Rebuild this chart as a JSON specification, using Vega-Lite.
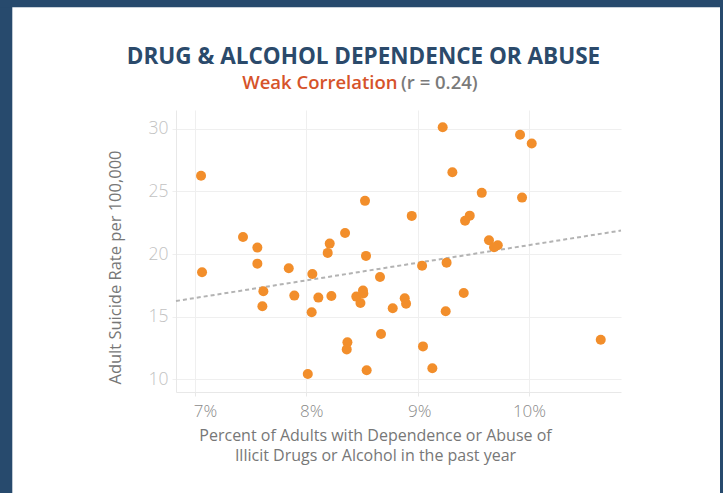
{
  "$schema": "https://vega.github.io/schema/vega-lite/v6.json",
  "width": 445,
  "height": 282,
  "autosize": {"type": "none"},
  "padding": {"left": 176, "top": 110, "right": 102, "bottom": 101},
  "background": "white",
  "config": {"font": "Open Sans", "view": {"stroke": null}},
  "title": {
    "text": "DRUG & ALCOHOL DEPENDENCE OR ABUSE",
    "color": "#2b4a6b",
    "fontSize": 22.5,
    "fontWeight": "bold",
    "font": "Open Sans",
    "anchor": "middle",
    "frame": "bounds",
    "baseline": "alphabetic",
    "offset": -86,
    "dx": 2
  },
  "datasets": {
    "states": [
      {"pct": 7.054, "rate": 26.25},
      {"pct": 7.063, "rate": 18.55},
      {"pct": 7.431, "rate": 21.37},
      {"pct": 7.56, "rate": 20.52},
      {"pct": 7.56, "rate": 19.24},
      {"pct": 7.614, "rate": 17.04},
      {"pct": 7.605, "rate": 15.84},
      {"pct": 7.842, "rate": 18.87},
      {"pct": 7.892, "rate": 16.69},
      {"pct": 8.054, "rate": 18.42},
      {"pct": 8.108, "rate": 16.53},
      {"pct": 8.048, "rate": 15.36},
      {"pct": 8.013, "rate": 10.43},
      {"pct": 8.192, "rate": 20.1},
      {"pct": 8.21, "rate": 20.84},
      {"pct": 8.225, "rate": 16.66},
      {"pct": 8.348, "rate": 21.69},
      {"pct": 8.369, "rate": 12.96},
      {"pct": 8.363, "rate": 12.4},
      {"pct": 8.449, "rate": 16.61},
      {"pct": 8.509, "rate": 17.1},
      {"pct": 8.512, "rate": 16.86},
      {"pct": 8.486, "rate": 16.1},
      {"pct": 8.527, "rate": 24.25},
      {"pct": 8.536, "rate": 19.86},
      {"pct": 8.542, "rate": 10.73},
      {"pct": 8.662, "rate": 18.18},
      {"pct": 8.671, "rate": 13.63},
      {"pct": 8.776, "rate": 15.68},
      {"pct": 8.884, "rate": 16.48},
      {"pct": 8.896, "rate": 16.05},
      {"pct": 8.947, "rate": 23.05},
      {"pct": 9.04, "rate": 19.08},
      {"pct": 9.048, "rate": 12.64},
      {"pct": 9.132, "rate": 10.89},
      {"pct": 9.26, "rate": 19.32},
      {"pct": 9.252, "rate": 15.44},
      {"pct": 9.225, "rate": 30.13},
      {"pct": 9.92, "rate": 29.52},
      {"pct": 10.025, "rate": 28.83},
      {"pct": 9.312, "rate": 26.54},
      {"pct": 9.576, "rate": 24.89},
      {"pct": 9.938, "rate": 24.51},
      {"pct": 9.468, "rate": 23.07},
      {"pct": 9.426, "rate": 22.67},
      {"pct": 9.641, "rate": 21.11},
      {"pct": 9.72, "rate": 20.71},
      {"pct": 9.686, "rate": 20.55},
      {"pct": 9.414, "rate": 16.9},
      {"pct": 10.645, "rate": 13.17}
    ],
    "trend": [
      {"pct": 6.829, "rate": 16.26},
      {"pct": 10.827, "rate": 21.88}
    ]
  },
  "layer": [
    {
      "data": {"values": [{}]},
      "mark": {"type": "rect", "color": "#274a6d"},
      "encoding": {"x": {"value": -176}, "x2": {"value": -163.7}, "y": {"value": -110}, "y2": {"value": 383}}
    },
    {
      "data": {"values": [{}]},
      "mark": {"type": "rect", "color": "#274a6d"},
      "encoding": {"x": {"value": -176}, "x2": {"value": 547}, "y": {"value": -110}, "y2": {"value": -102.7}}
    },
    {
      "data": {"values": [{}]},
      "mark": {"type": "rect", "color": "#274a6d"},
      "encoding": {"x": {"value": 544}, "x2": {"value": 547}, "y": {"value": -110}, "y2": {"value": 383}}
    },
    {
      "data": {"name": "trend"},
      "mark": {"type": "line", "color": "#b3b3b3", "strokeWidth": 2, "strokeDash": [4, 3]},
      "encoding": {
        "x": {"field": "pct", "type": "quantitative"},
        "y": {"field": "rate", "type": "quantitative"}
      }
    },
    {
      "data": {"name": "states"},
      "mark": {"type": "circle", "size": 100, "color": "#f28e2b", "opacity": 1},
      "encoding": {
        "x": {
          "field": "pct",
          "type": "quantitative",
          "scale": {"domain": [6.829, 10.827], "nice": false, "zero": false},
          "axis": {
            "values": [7, 8, 9, 10],
            "labelExpr": "datum.value + '%'",
            "grid": true,
            "gridColor": "#efefef",
            "domainColor": "#e8e8e8",
            "tickColor": "#e8e8e8",
            "tickSize": 4,
            "labelColor": "#8a8a8a",
            "labelFontSize": 17,
            "labelFontWeight": 300,
            "labelPadding": 7,
            "labelOffset": {"condition": [{"test": "datum.value == 7", "value": 10}, {"test": "datum.value == 8", "value": 5}, {"test": "datum.value == 9", "value": 1.5}], "value": 0},
            "title": ["Percent of Adults with Dependence or Abuse of", "Illicit Drugs or Alcohol in the past year"],
            "titleColor": "#777777",
            "titleFontSize": 16,
            "titleFontWeight": "normal",
            "titleX": 199,
            "titleY": 35,
            "titleAlign": "center",
            "titleBaseline": "top",
            "titleLineHeight": 20
          }
        },
        "y": {
          "field": "rate",
          "type": "quantitative",
          "scale": {"domain": [9, 31.5], "nice": false, "zero": false},
          "axis": {
            "values": [10, 15, 20, 25, 30],
            "grid": true,
            "gridColor": "#efefef",
            "domainColor": "#e8e8e8",
            "tickColor": "#efefef",
            "tickSize": 4,
            "labelColor": "#c2c2c2",
            "labelFontSize": 17.5,
            "labelFontWeight": 300,
            "labelPadding": 4,
            "title": "Adult Suicide Rate per 100,000",
            "titleColor": "#777777",
            "titleFontSize": 16.5,
            "titleFontWeight": "normal",
            "titleX": -61,
            "titleY": 157,
            "titleAngle": 270,
            "titleAlign": "center",
            "titleBaseline": "middle"
          }
        }
      }
    },
    {
      "data": {"values": [{}]},
      "mark": {"type": "text", "align": "right", "baseline": "alphabetic", "fontSize": 18.5, "fontWeight": 600, "color": "#d6532a", "font": "Open Sans"},
      "encoding": {"x": {"value": 221.5}, "y": {"value": -21.5}, "text": {"value": "Weak Correlation"}}
    },
    {
      "data": {"values": [{}]},
      "mark": {"type": "text", "align": "left", "baseline": "alphabetic", "fontSize": 18.5, "fontWeight": 600, "color": "#7a7a7a", "font": "Open Sans"},
      "encoding": {"x": {"value": 225}, "y": {"value": -21.5}, "text": {"value": "(r = 0.24)"}}
    }
  ]
}
